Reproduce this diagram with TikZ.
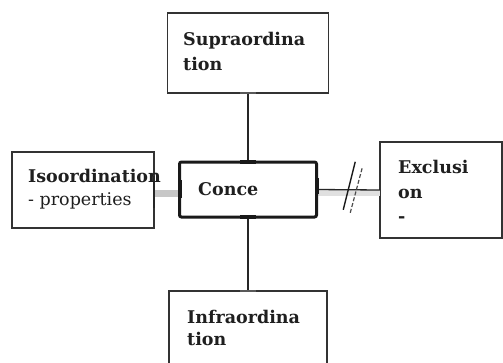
\documentclass[tikz,border=0pt]{standalone}
\usepackage{fontspec}
\setmainfont{DejaVu Serif}
\begin{document}
\begin{tikzpicture}[x=1pt,y=-1pt,
  box/.style={draw=black!80,line width=1.4pt,fill=white,rectangle,inner sep=0pt,outer sep=0pt},
  cbox/.style={draw=black!90,line width=3pt,rounded corners=2pt,fill=white,rectangle,inner sep=0pt,outer sep=0pt},
  lbl/.style={anchor=base west,inner sep=0pt,text=black!88,font=\bfseries\fontsize{17.5}{22}\selectfont},
  rlbl/.style={anchor=base west,inner sep=0pt,text=black!88,font=\fontsize{17.5}{22}\selectfont},
  link/.style={draw=black!85,line width=1.3pt},
  tick/.style={line width=4pt,draw=black!90},
  stick/.style={line width=2.5pt,draw=black!65}]
\clip (0,0) rectangle (503,362);
\fill[white] (0,0) rectangle (503,362);
% boxes
\node[box,minimum width=161pt,minimum height=80pt] (sup) at (248,53) {};
\node[box,minimum width=142pt,minimum height=76pt] (iso) at (83,190) {};
\node[box,minimum width=122pt,minimum height=96pt] (exc) at (441,190) {};
\node[box,minimum width=158pt,minimum height=110pt] (inf) at (248,346) {};
% shadows of connectors
\draw[line width=7pt,draw=black!22] (iso.east) ++(0,3) coordinate (isoS) -- ++(26,0) coordinate (isoE);
\draw[line width=6pt,draw=black!12] (exc.west) ++(-63,3) coordinate (excS) -- ++(63,0);
\node[cbox,minimum width=137pt,minimum height=55pt] (con) at (248,189.5) {};
% connectors
\draw[link] (sup.south) -- (con.north);
\draw[link] (con.south) -- (inf.north);
\draw[link] (con.east) -- (exc.west) coordinate[pos=0.5] (mid);
\draw[line width=1.4pt,draw=black!90] ([shift={(-5,20)}]mid) -- ([shift={(7,-28)}]mid);
\draw[line width=1.2pt,draw=black!70,dash pattern=on 4pt off 2pt] ([shift={(2,23)}]mid) -- ([shift={(14,-22)}]mid);
% connection ticks
\draw[tick] ([xshift=-8]con.north) -- ([xshift=8]con.north);
\draw[tick] ([xshift=-8]con.south) -- ([xshift=8]con.south);
\draw[tick] ([yshift=-8]con.west) -- ([yshift=10]con.west);
\draw[tick] ([yshift=-4]con.east) -- ([yshift=12]con.east);
\draw[stick] ([xshift=-8]sup.south) -- ([xshift=8]sup.south);
\draw[stick] ([xshift=-8]inf.north) -- ([xshift=8]inf.north);
\draw[line width=2pt,draw=black!85] ([yshift=-18]iso.east) -- ([yshift=14]iso.east);
% texts
\node[lbl] (t1) at (183,45) {Supraordina};
\node[lbl] (t2) at (183,70) {tion};
\node[lbl] (t3) at (28,182) {Isoordination};
\node[rlbl] (t4) at (28,205) {- properties};
\node[lbl] (t5) at (198,195) {Conce};
\node[lbl] (t6) at (398,173) {Exclusi};
\node[lbl] (t7) at (398,198) {on};
\node[lbl] (t8) at (398,222) {-};
\node[lbl] (t9) at (187,323) {Infraordina};
\node[lbl] (t10) at (187,345) {tion};
\end{tikzpicture}
\end{document}
